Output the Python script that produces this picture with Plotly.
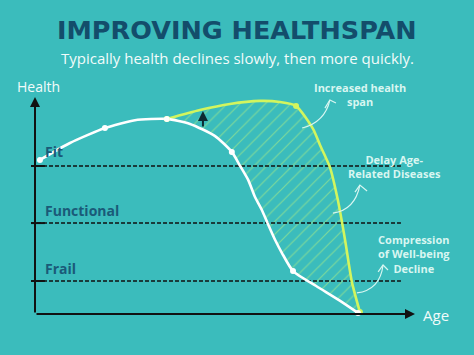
import plotly.graph_objects as go

# ---------------- data (age on x, health score on y) ----------------
white_age = [1.3, 9.2, 18.4, 26.3, 34.7, 40.8, 47.4, 51.8, 54.0, 56.1, 57.9, 59.7, 61.3, 63.2, 65.0, 67.9, 74.0, 80.0, 85.0]
white_health = [7.10, 7.88, 8.57, 8.93, 8.99, 8.76, 8.20, 7.47, 6.82, 6.18, 5.39, 4.79, 4.15, 3.41, 2.81, 1.98, 1.29, 0.64, 0.05]
white_dot_age = [1.3, 18.4, 34.7, 51.8, 67.9, 85.0]
white_dot_health = [7.10, 8.57, 8.99, 7.47, 1.98, 0.05]

green_age = [34.7, 43.4, 51.3, 59.2, 64.5, 68.7, 73.2, 75.0, 77.6, 79.7, 81.6, 83.4, 85.5]
green_health = [8.99, 9.40, 9.68, 9.82, 9.77, 9.59, 8.52, 7.79, 6.77, 5.25, 3.41, 1.47, 0.09]
green_dot_age = [34.7, 68.7, 85.5]
green_dot_health = [8.99, 9.59, 0.09]

level_names = ["Fit", "Functional", "Frail"]
level_values = [6.82, 4.19, 1.52]
level_label_y = [7.47, 4.75, 2.12]

callout_texts = ["Increased health<br>span", "Delay Age-<br>Related Diseases",
                 "Compression<br>of Well-being<br>Decline"]
callout_pos = [(85.5, 10.12), (94.5, 6.82), (99.7, 2.76)]
# curved arrows: start, control, tip, two arrow-head arm ends
callout_arrows = [
    [(70.3, 8.57), (76.3, 8.85), (77.6, 9.86), (76.3, 9.49), (79.2, 9.72)],
    [(78.4, 4.65), (84.2, 4.79), (85.5, 5.94), (84.2, 5.62), (87.4, 5.67)],
    [(84.7, 0.97), (90.8, 1.11), (91.6, 2.26), (90.3, 1.94), (92.9, 2.03)],
]

BG = "#3bbcbc"
GREEN = "#d2f55e"
DARK = "#134d6b"
LEVEL_COL = "#1a5a78"
LIGHT = "#d8f6f1"

fig = go.Figure()

# hatched gap between the two curves
cut = white_age.index(34.7)
fill_x = green_age + white_age[cut:][::-1]
fill_y = green_health + white_health[cut:][::-1]
fig.add_trace(go.Scatter(
    x=fill_x, y=fill_y, mode="lines", fill="toself", line=dict(width=0, shape="spline", smoothing=0.6),
    fillcolor="rgba(0,0,0,0)",
    fillpattern=dict(shape="/", fgcolor="rgba(190,245,120,1)", bgcolor="rgba(0,0,0,0)",
                     size=9, solidity=0.13),
    hoverinfo="skip", showlegend=False))

# dashed level lines + tick stubs
for v in level_values:
    fig.add_trace(go.Scatter(x=[-1.05, 96.3], y=[v, v], mode="lines",
                             line=dict(color="#111", width=1.5, dash="4px,2px"),
                             hoverinfo="skip", showlegend=False))
    fig.add_trace(go.Scatter(x=[-1.05, 2.6], y=[v, v], mode="lines",
                             line=dict(color="#111", width=2),
                             hoverinfo="skip", showlegend=False))

# curves
fig.add_trace(go.Scatter(x=green_age, y=green_health, mode="lines",
                         line=dict(color=GREEN, width=2.6, shape="spline", smoothing=0.6),
                         hoverinfo="skip", showlegend=False))
fig.add_trace(go.Scatter(x=white_age, y=white_health, mode="lines",
                         line=dict(color="white", width=2.6, shape="spline", smoothing=0.6),
                         hoverinfo="skip", showlegend=False))
fig.add_trace(go.Scatter(x=green_dot_age, y=green_dot_health, mode="markers",
                         marker=dict(color=GREEN, size=6), hoverinfo="skip", showlegend=False))
fig.add_trace(go.Scatter(x=white_dot_age, y=white_dot_health, mode="markers",
                         marker=dict(color="white", size=6), hoverinfo="skip", showlegend=False))

annotations = []
# axes with arrows
annotations.append(dict(x=0, y=10.0, ax=0, ay=0, xref="x", yref="y", axref="x", ayref="y",
                        text="", showarrow=True, arrowhead=2, arrowsize=1, arrowwidth=2,
                        arrowcolor="#111"))
annotations.append(dict(x=100, y=0, ax=0, ay=0, xref="x", yref="y", axref="x", ayref="y",
                        text="", showarrow=True, arrowhead=2, arrowsize=1, arrowwidth=2,
                        arrowcolor="#111"))
# small up arrow
annotations.append(dict(x=44.2, y=9.35, ax=44.2, ay=8.57, xref="x", yref="y", axref="x", ayref="y",
                        text="", showarrow=True, arrowhead=2, arrowsize=1, arrowwidth=2,
                        arrowcolor="#0d2a33"))

annotations.append(dict(x=1.05, y=10.5, xref="x", yref="y", text="Health", showarrow=False,
                        font=dict(family="Open Sans", size=14, color="#f2fbfa")))
annotations.append(dict(x=105.5, y=-0.05, xref="x", yref="y", text="Age", showarrow=False,
                        font=dict(family="Open Sans", size=15, color="#f2fbfa")))

for name, yy in zip(level_names, level_label_y):
    annotations.append(dict(x=2.1, y=yy, xref="x", yref="y", text="<b>" + name + "</b>",
                            showarrow=False, xanchor="left", yanchor="middle",
                            font=dict(family="Open Sans", size=14, color=LEVEL_COL)))

for t, (cx, cy) in zip(callout_texts, callout_pos):
    annotations.append(dict(x=cx, y=cy, xref="x", yref="y", text="<b>" + t + "</b>",
                            showarrow=False, align="center", yanchor="middle",
                            font=dict(family="Open Sans", size=11, color=LIGHT)))

annotations.append(dict(x=0.5, y=0.915, xref="paper", yref="paper", text="<b>IMPROVING HEALTHSPAN</b>",
                        showarrow=False, xanchor="center", yanchor="middle",
                        font=dict(family="DejaVu Sans", size=25.5, color=DARK)))
annotations.append(dict(x=0.5, y=0.837, xref="paper", yref="paper",
                        text="Typically health declines slowly, then more quickly.",
                        showarrow=False, xanchor="center", yanchor="middle",
                        font=dict(family="Open Sans", size=15, color="#f2fbfa")))

shapes = []
for s, c, tip, a1, a2 in callout_arrows:
    shapes.append(dict(type="path", xref="x", yref="y",
                       path=f"M {s[0]},{s[1]} Q {c[0]},{c[1]} {tip[0]},{tip[1]}",
                       line=dict(color=LIGHT, width=1.2)))
    shapes.append(dict(type="path", xref="x", yref="y",
                       path=f"M {a1[0]},{a1[1]} L {tip[0]},{tip[1]} L {a2[0]},{a2[1]}",
                       line=dict(color=LIGHT, width=1.2)))

fig.update_layout(
    width=474, height=355,
    margin=dict(l=0, r=0, t=0, b=0),
    paper_bgcolor=BG, plot_bgcolor=BG,
    xaxis=dict(range=[-9.21, 115.53], visible=False, fixedrange=True),
    yaxis=dict(range=[-1.889, 14.47], visible=False, fixedrange=True),
    annotations=annotations, shapes=shapes,
    showlegend=False,
)

fig.write_html("out.html", config={"displayModeBar": False},
               post_script="document.body.style.margin='0px';document.body.style.overflow='hidden';")
